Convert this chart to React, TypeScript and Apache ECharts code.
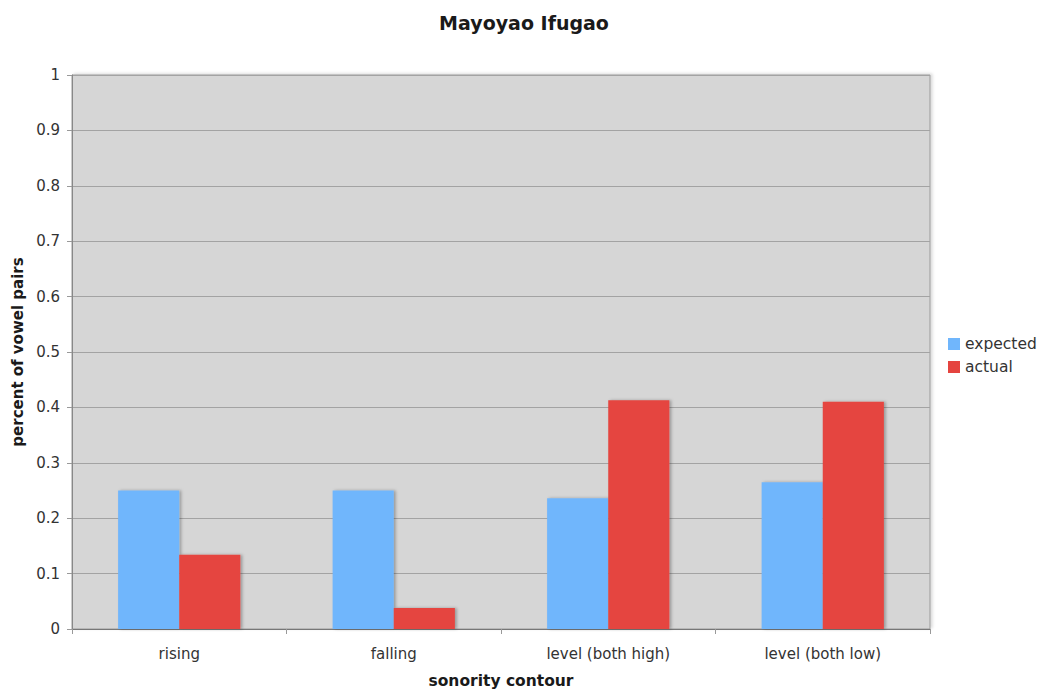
import React, { useEffect, useRef } from "react";
import * as echarts from "echarts";

// Sonority contour categories and the share of vowel pairs in each
const categories = ["rising", "falling", "level (both high)", "level (both low)"];
const expected = [0.25, 0.25, 0.236, 0.265];
const actual = [0.134, 0.038, 0.413, 0.41];
const yTicks = [0, 0.1, 0.2, 0.3, 0.4, 0.5, 0.6, 0.7, 0.8, 0.9, 1];

const FONT = "'DejaVu Sans', Verdana, sans-serif";

export default function App() {
  const ref = useRef<HTMLDivElement>(null);

  useEffect(() => {
    if (!ref.current) return;
    const chart = echarts.init(ref.current, undefined, { renderer: "svg" });
    const barShadow = {
      shadowColor: "rgba(0,0,0,0.28)",
      shadowBlur: 3,
      shadowOffsetX: 2,
      shadowOffsetY: 0,
    };
    chart.setOption({
      animation: false,
      backgroundColor: "#ffffff",
      textStyle: { fontFamily: FONT },
      title: {
        text: "Mayoyao Ifugao",
        left: 519,
        textAlign: "center",
        top: 8,
        textStyle: { fontFamily: FONT, fontSize: 19, fontWeight: "bold", color: "#1a1a1a" },
      },
      legend: {
        orient: "vertical",
        left: 943,
        top: 331,
        itemWidth: 12,
        itemHeight: 12,
        itemGap: 7,
        icon: "rect",
        textStyle: { fontFamily: FONT, fontSize: 15.5, color: "#333" },
        data: ["expected", "actual"],
      },
      grid: {
        left: 72,
        right: 113,
        top: 75,
        bottom: 64,
        show: true,
        backgroundColor: "#d6d6d6",
        borderColor: "#9a9a9a",
        borderWidth: 1,
        shadowColor: "rgba(0,0,0,0.15)",
        shadowBlur: 3,
        shadowOffsetX: 2,
        shadowOffsetY: -1,
      },
      xAxis: {
        type: "category",
        data: categories,
        name: "sonority contour",
        nameLocation: "middle",
        nameGap: 44,
        nameTextStyle: { fontFamily: FONT, fontSize: 15.5, fontWeight: "bold", color: "#1a1a1a" },
        axisLine: { lineStyle: { color: "#777", width: 1 } },
        axisTick: { show: true, length: 5, lineStyle: { color: "#999" } },
        axisLabel: { fontFamily: FONT, fontSize: 15, color: "#333", margin: 17 },
      },
      yAxis: {
        type: "value",
        min: 0,
        max: 1,
        interval: 0.1,
        name: "percent of vowel pairs",
        nameLocation: "middle",
        nameGap: 46,
        nameTextStyle: { fontFamily: FONT, fontSize: 15, fontWeight: "bold", color: "#1a1a1a" },
        axisLine: { show: true, lineStyle: { color: "#888", width: 1 } },
        axisTick: { show: true, length: 5, lineStyle: { color: "#999" } },
        axisLabel: {
          fontFamily: FONT,
          fontSize: 15,
          color: "#333",
          margin: 12,
          formatter: (v: number) => {
            const t = yTicks.find((k) => Math.abs(k - v) < 1e-6);
            return String(t !== undefined ? t : +v.toFixed(1));
          },
        },
        splitLine: { show: true, lineStyle: { color: "#a3a3a3", width: 1 } },
      },
      series: [
        {
          name: "expected",
          type: "bar",
          data: expected,
          barGap: "0%",
          barCategoryGap: "43%",
          itemStyle: { color: "#70b6fc", ...barShadow },
        },
        {
          name: "actual",
          type: "bar",
          data: actual,
          barGap: "0%",
          barCategoryGap: "43%",
          itemStyle: { color: "#e5443f", ...barShadow },
        },
      ],
    });
    return () => chart.dispose();
  }, []);

  return (
    <div
      ref={ref}
      style={{ position: "absolute", left: 0, top: 0, width: 1043, height: 694 }}
    />
  );
}
